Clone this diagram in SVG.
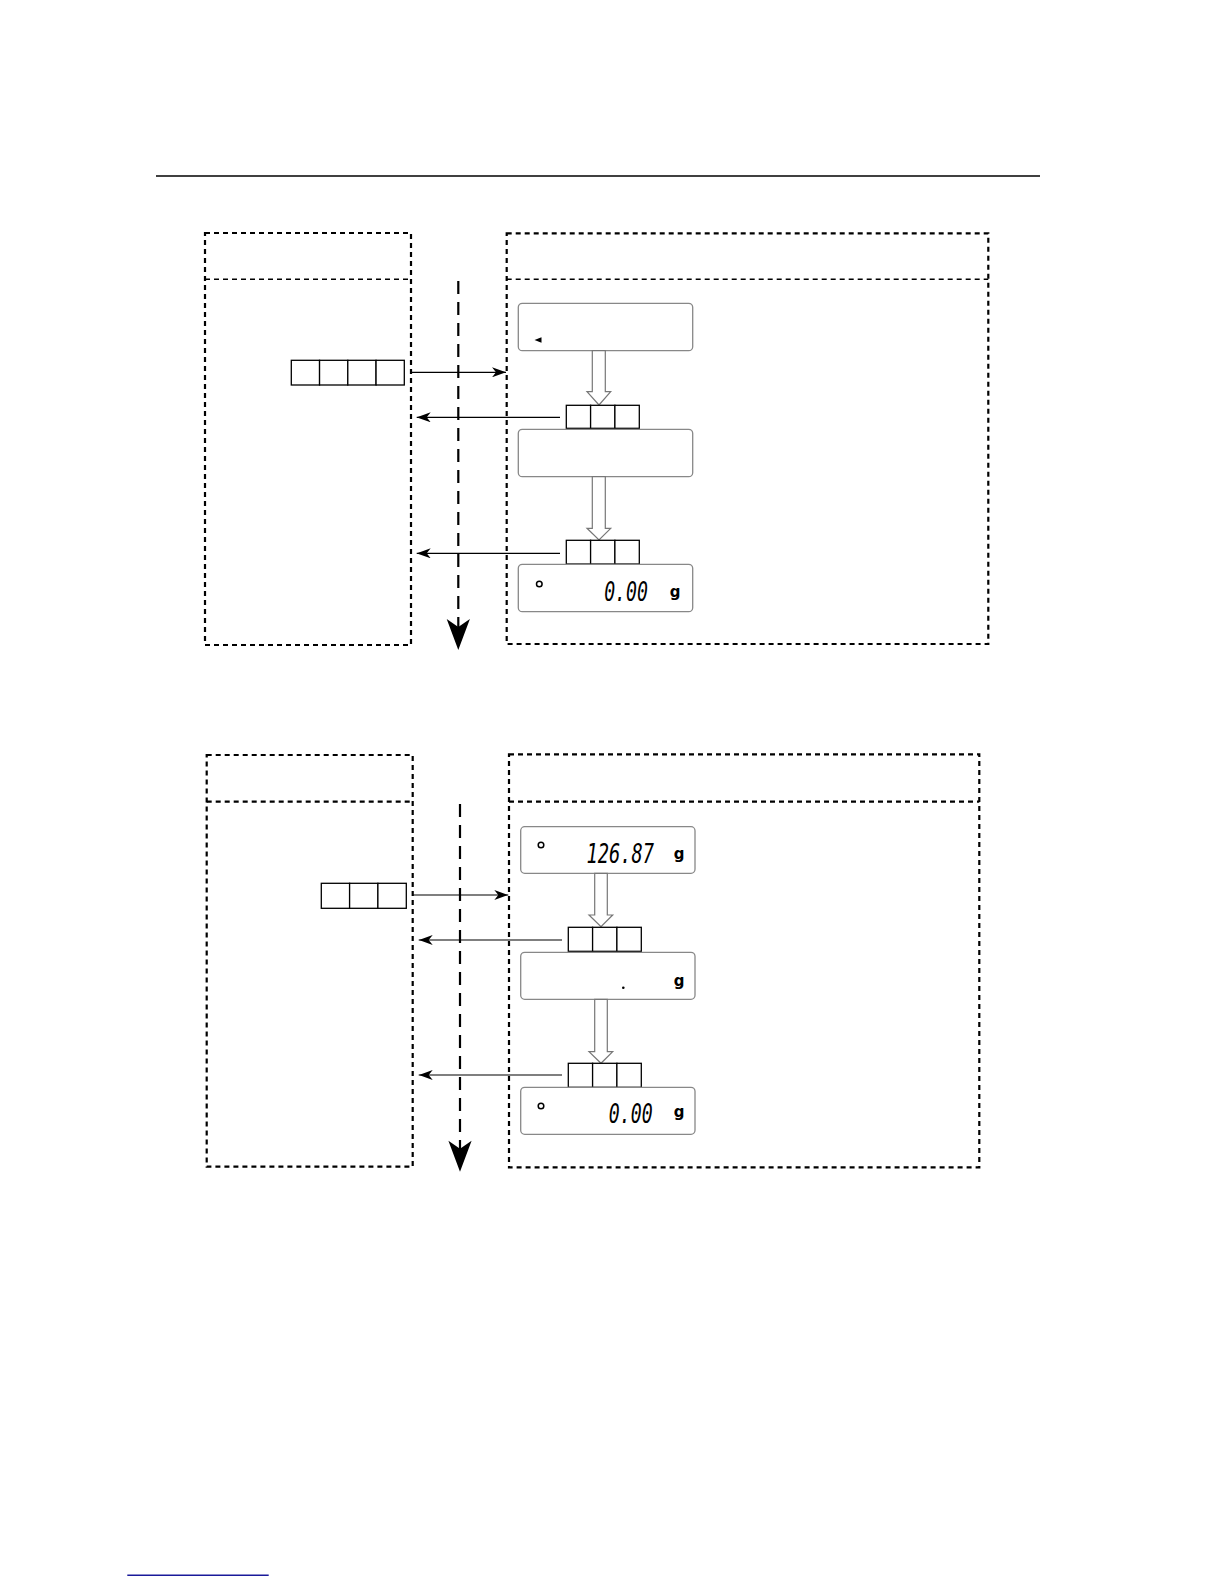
<svg xmlns="http://www.w3.org/2000/svg" width="1224" height="1584" viewBox="0 0 1224 1584">
<style>
.box{fill:none;stroke:#000;stroke-width:2.2;stroke-dasharray:5 4}
.hdr{fill:none;stroke:#000;stroke-width:1.4;stroke-dasharray:5 4}
.key{fill:#fff;stroke:#000;stroke-width:1.3}
.disp{fill:#fff;stroke:#888;stroke-width:1.3}
.hollow{fill:#fff;stroke:#777;stroke-width:1.2}
.conn{fill:none;stroke:#000;stroke-width:1.2}
.flow{fill:none;stroke:#000;stroke-width:2.2;stroke-dasharray:13 8}
.seg{font-family:"DejaVu Sans Mono",monospace;font-style:italic;font-size:26px;fill:#000}
.unit{font-family:"DejaVu Sans",sans-serif;font-size:15px;font-weight:bold;fill:#000}
</style>
<defs>
<marker id="ah" markerWidth="14" markerHeight="10" refX="14" refY="5" orient="auto" markerUnits="userSpaceOnUse">
<path d="M0,0 L14,5 L0,10 L4,5 z" fill="#000"/>
</marker>
</defs>
<rect width="1224" height="1584" fill="#fff"/>
<line x1="156" y1="176" x2="1040" y2="176" stroke="#000" stroke-width="1.5"/>

<!-- Section 1 -->
<g id="s1-left-panel">
<rect class="box" x="205" y="233" width="206" height="412"/>
<line class="hdr" x1="205" y1="279.3" x2="411" y2="279.3"/>
</g>
<g id="s1-right-panel">
<rect class="box" x="506.7" y="233.3" width="481.6" height="410.7"/>
<line class="hdr" x1="506.7" y1="279.3" x2="988.3" y2="279.3"/>
</g>
<g id="s1-key-left">
<rect class="key" x="291.3" y="360.3" width="28.25" height="24.7"/>
<rect class="key" x="319.55" y="360.3" width="28.25" height="24.7"/>
<rect class="key" x="347.8" y="360.3" width="28.25" height="24.7"/>
<rect class="key" x="376.05" y="360.3" width="28.25" height="24.7"/>
</g>
<g id="s1-display1">
<rect class="disp" x="518.3" y="303.3" width="174.4" height="47.4" rx="4"/>
<polygon points="534.5,340 541.5,337.3 541.5,342.7" fill="#000"/>
</g>
<g id="s1-harrow1">
<polygon class="hollow" points="592.3,350.7 605.3,350.7 605.3,391.7 610.7,391.7 599,405 587,391.7 592.3,391.7"/>
</g>
<g id="s1-key1">
<rect class="key" x="566.3" y="405.3" width="24.3" height="23"/>
<rect class="key" x="590.6" y="405.3" width="24.3" height="23"/>
<rect class="key" x="614.9" y="405.3" width="24.4" height="23"/>
</g>
<g id="s1-display2">
<rect class="disp" x="518.3" y="429.3" width="174.4" height="47.4" rx="4"/>
</g>
<g id="s1-harrow2">
<polygon class="hollow" points="592.3,476.7 605.3,476.7 605.3,528.3 610.7,528.3 599,540 587,528.3 592.3,528.3"/>
</g>
<g id="s1-key2">
<rect class="key" x="566.3" y="540.3" width="24.3" height="23.7"/>
<rect class="key" x="590.6" y="540.3" width="24.3" height="23.7"/>
<rect class="key" x="614.9" y="540.3" width="24.4" height="23.7"/>
</g>
<g id="s1-display3">
<rect class="disp" x="518.3" y="564.3" width="174.4" height="47.4" rx="4"/>
<circle cx="539.3" cy="584" r="2.8" fill="none" stroke="#000" stroke-width="1.5"/>
<text class="seg" transform="translate(648,600.7) scale(0.7,1)" text-anchor="end">0.00</text>
<text class="unit" x="675" y="597" text-anchor="middle">g</text>
</g>

<!-- Section 2 -->
<g id="s2-left-panel">
<rect class="box" x="206.7" y="755" width="206" height="411.7"/>
<line class="box" x1="206.7" y1="801.7" x2="412.7" y2="801.7"/>
</g>
<g id="s2-right-panel">
<rect class="box" x="509" y="754.3" width="470.3" height="413"/>
<line class="box" x1="509" y1="801.7" x2="979.3" y2="801.7"/>
</g>
<g id="s2-key-left">
<rect class="key" x="321.3" y="883.3" width="28.3" height="25"/>
<rect class="key" x="349.6" y="883.3" width="28.3" height="25"/>
<rect class="key" x="377.9" y="883.3" width="28.4" height="25"/>
</g>
<g id="s2-display1">
<rect class="disp" x="520.7" y="826.7" width="174.3" height="46.6" rx="4"/>
<circle cx="541" cy="845" r="2.8" fill="none" stroke="#000" stroke-width="1.5"/>
<text class="seg" transform="translate(654,863.3) scale(0.72,1)" text-anchor="end">126.87</text>
<text class="unit" x="679" y="859" text-anchor="middle">g</text>
</g>
<g id="s2-harrow1">
<polygon class="hollow" points="594.7,873.3 607.3,873.3 607.3,915 612.7,915 601,926.7 589,915 594.7,915"/>
</g>
<g id="s2-key1">
<rect class="key" x="568.3" y="927.3" width="24.3" height="24"/>
<rect class="key" x="592.6" y="927.3" width="24.3" height="24"/>
<rect class="key" x="616.9" y="927.3" width="24.4" height="24"/>
</g>
<g id="s2-display2">
<rect class="disp" x="520.7" y="952.3" width="174.3" height="47" rx="4"/>
<circle cx="623.3" cy="987.7" r="1.3" fill="#000"/>
<text class="unit" x="679" y="986" text-anchor="middle">g</text>
</g>
<g id="s2-harrow2">
<polygon class="hollow" points="594.7,999.3 607.3,999.3 607.3,1051.7 612.7,1051.7 601,1063.3 589,1051.7 594.7,1051.7"/>
</g>
<g id="s2-key2">
<rect class="key" x="568.3" y="1063.3" width="24.3" height="24"/>
<rect class="key" x="592.6" y="1063.3" width="24.3" height="24"/>
<rect class="key" x="616.9" y="1063.3" width="24.4" height="24"/>
</g>
<g id="s2-display3">
<rect class="disp" x="520.7" y="1087.3" width="174.3" height="47" rx="4"/>
<circle cx="541" cy="1106" r="2.8" fill="none" stroke="#000" stroke-width="1.5"/>
<text class="seg" transform="translate(652.7,1123.3) scale(0.7,1)" text-anchor="end">0.00</text>
<text class="unit" x="679" y="1117" text-anchor="middle">g</text>
</g>

<g id="connectors">
<line class="conn" x1="410" y1="372.3" x2="506" y2="372.3" marker-end="url(#ah)"/>
<line class="conn" x1="560" y1="417.3" x2="416.7" y2="417.3" marker-end="url(#ah)"/>
<line class="conn" x1="560" y1="553.3" x2="416.7" y2="553.3" marker-end="url(#ah)"/>
<line class="flow" x1="458.3" y1="281" x2="458.3" y2="628"/>
<path d="M458.3,650 L446.7,619 L458.3,627 L469.9,619 z" fill="#000"/>
<line class="conn" x1="412" y1="895" x2="508.3" y2="895" marker-end="url(#ah)"/>
<line class="conn" x1="562" y1="940" x2="418.7" y2="940" marker-end="url(#ah)"/>
<line class="conn" x1="562" y1="1075" x2="418.7" y2="1075" marker-end="url(#ah)"/>
<line class="flow" x1="460" y1="804" x2="460" y2="1150"/>
<path d="M460,1171.7 L448.4,1140.7 L460,1148.7 L471.6,1140.7 z" fill="#000"/>
</g>

<line x1="127.3" y1="1575.3" x2="268.7" y2="1575.3" stroke="#1a1a9a" stroke-width="1.5"/>
</svg>
